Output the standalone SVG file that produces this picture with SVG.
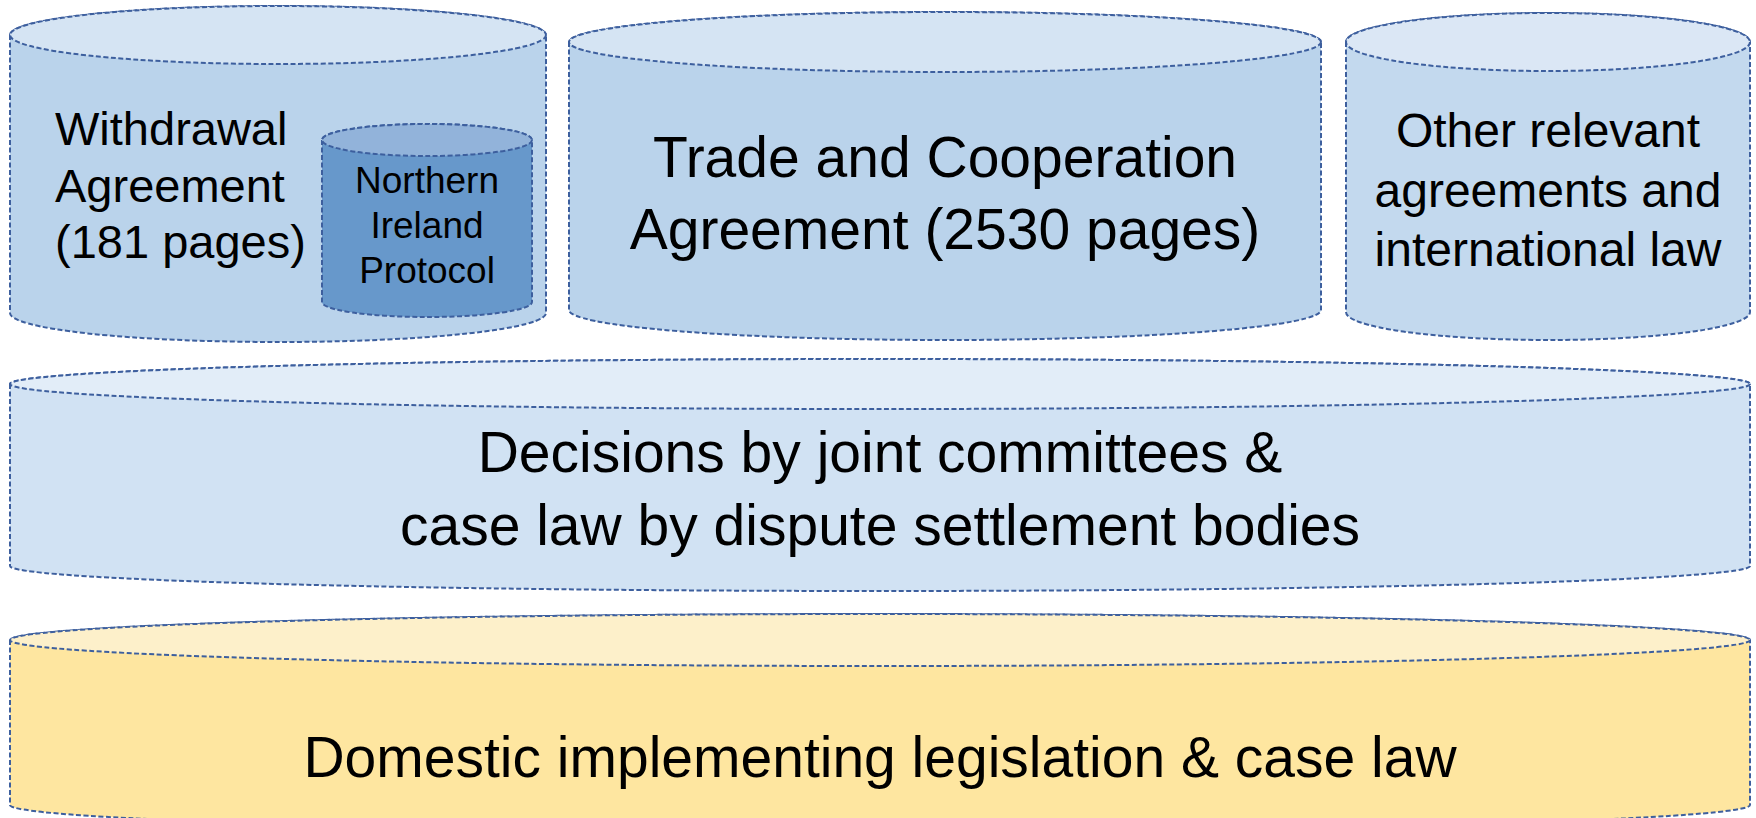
<svg xmlns="http://www.w3.org/2000/svg" width="1756" height="818" viewBox="0 0 1756 818">
<style>
  .edge { stroke: #3d5f9e; stroke-width: 2; stroke-dasharray: 5 2.5; }
  .t { font-family: "Liberation Sans", Arial, sans-serif; fill: #000; }
  .c { text-anchor: middle; }
</style>
<rect width="1756" height="818" fill="#ffffff"/>

<g id="withdrawal">
  <path class="edge" fill="#bad3eb" d="M10 35 V313 A268 29 0 0 0 546 313 V35 A268 29 0 0 0 10 35 Z"/>
  <ellipse class="edge" fill="#d5e4f3" cx="278" cy="35" rx="268" ry="29"/>
  <text class="t" font-size="47"><tspan x="55" y="145">Withdrawal</tspan><tspan x="55" y="202">Agreement</tspan><tspan x="55" y="258">(181 pages)</tspan></text>
</g>

<g id="ni-protocol">
  <path class="edge" fill="#6798cb" d="M322 140 V302 A105 15 0 0 0 532 302 V140 A105 16 0 0 0 322 140 Z"/>
  <ellipse class="edge" fill="#92b3da" cx="427" cy="140" rx="105" ry="16"/>
  <text class="t c" font-size="37"><tspan x="427" y="193">Northern</tspan><tspan x="427" y="238">Ireland</tspan><tspan x="427" y="283">Protocol</tspan></text>
</g>

<g id="trade">
  <path class="edge" fill="#bad3eb" d="M569 42 V310 A376 30 0 0 0 1321 310 V42 A376 30 0 0 0 569 42 Z"/>
  <ellipse class="edge" fill="#d5e4f3" cx="945" cy="42" rx="376" ry="30"/>
  <text class="t c" font-size="57"><tspan x="945" y="177">Trade and Cooperation</tspan><tspan x="945" y="249">Agreement (2530 pages)</tspan></text>
</g>

<g id="other">
  <path class="edge" fill="#c3d9ee" d="M1346 42 V312 A202 28 0 0 0 1750 312 V42 A202 29 0 0 0 1346 42 Z"/>
  <ellipse class="edge" fill="#dbe7f5" cx="1548" cy="42" rx="202" ry="29"/>
  <text class="t c" font-size="48"><tspan x="1548" y="147">Other relevant</tspan><tspan x="1548" y="207">agreements and</tspan><tspan x="1548" y="266">international law</tspan></text>
</g>

<g id="decisions">
  <path class="edge" fill="#d1e2f3" d="M10 384 V566 A870 25 0 0 0 1750 566 V384 A870 25 0 0 0 10 384 Z"/>
  <ellipse class="edge" fill="#e2edf8" cx="880" cy="384" rx="870" ry="25"/>
  <text class="t c" font-size="57"><tspan x="880" y="472">Decisions by joint committees &amp;</tspan><tspan x="880" y="545">case law by dispute settlement bodies</tspan></text>
</g>

<g id="domestic">
  <path class="edge" fill="#fee6a0" d="M10 640 V805 A870 26 0 0 0 1750 805 V640 A870 26 0 0 0 10 640 Z"/>
  <ellipse class="edge" fill="#fdf0ca" cx="880" cy="640" rx="870" ry="26"/>
  <text class="t c" font-size="57"><tspan x="880" y="777">Domestic implementing legislation &amp; case law</tspan></text>
</g>

<g id="connectors"></g>
</svg>
